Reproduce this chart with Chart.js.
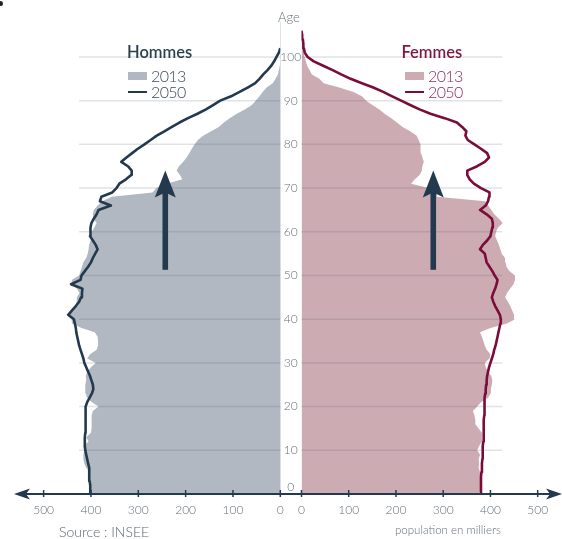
<!DOCTYPE html>
<html lang="fr">
<head>
<meta charset="utf-8">
<title>Pyramide des âges 2013 et 2050</title>
<script src="https://cdn.jsdelivr.net/npm/chart.js@4.4.1/dist/chart.umd.min.js"></script>
<style>
  html, body { margin: 0; padding: 0; background: #fff; }
  #page { position: relative; width: 562px; height: 539px; overflow: hidden; font-family: Lato, "Open Sans", sans-serif; }
  .box { position: absolute; top: 0; height: 539px; }
  #box-h { left: 0; width: 301px; }
  #box-f { left: 289px; width: 273px; }
  .t { position: absolute; white-space: nowrap; line-height: 1; }
  .sw { position: absolute; }
  .ttl { font-size: 16.5px; font-weight: 600; }
  .yr { font-size: 16px; font-weight: 300; letter-spacing: -0.6px; }
</style>
</head>
<body>
<div id="page">
  <div class="box" id="box-h"><canvas id="chart-h"></canvas></div>
  <div class="box" id="box-f"><canvas id="chart-f"></canvas></div>

  <div class="sw" style="left:-1px;top:1px;width:4px;height:5px;border-radius:50%;background:#222"></div>
  <div class="t" style="left:278px;top:11px;font-size:13px;font-weight:300;color:#66707b">Age</div>

  <!-- legends -->
  <div class="t ttl" style="left:127px;top:44px;color:#2c4052">Hommes</div>
  <div class="sw" style="left:128px;top:71.5px;width:18.5px;height:8.5px;background:#b2b8c1"></div>
  <div class="t yr" style="left:151px;top:67.5px;color:#3a4c5d">2013</div>
  <div class="sw" style="left:128px;top:90.5px;width:18.7px;height:2.6px;background:#233a4e"></div>
  <div class="t yr" style="left:151px;top:84px;color:#3a4c5d">2050</div>

  <div class="t ttl" style="left:401.5px;top:44px;color:#7d1743">Femmes</div>
  <div class="sw" style="left:405px;top:71.5px;width:18.5px;height:8.5px;background:#cdabb3"></div>
  <div class="t yr" style="left:428px;top:67.5px;color:#8b2d56">2013</div>
  <div class="sw" style="left:405px;top:90.5px;width:18.7px;height:2.6px;background:#7a0c3a"></div>
  <div class="t yr" style="left:428px;top:84px;color:#8b2d56">2050</div>

  <div class="t" style="left:59px;top:524.5px;font-size:14px;font-weight:300;color:#5c6670">Source : INSEE</div>
  <div class="t" style="left:395px;top:524px;font-size:11.5px;font-weight:300;color:#66707b">population en milliers</div>
</div>

<script>
(function () {
  "use strict";

  /* ---- data: population (milliers) by single year of age ---------------- */
  var AGES = [];
  for (var a = 0; a <= 106; a++) AGES.push(a);

  var HOMMES_2013 = [
    400, 401, 403, 405, 406, 402, 410, 414, 416, 416,   // 0-9
    414, 416, 405, 410, 400, 399, 399, 398, 399, 396,   // 10-19
    384, 398, 408, 411, 412, 412, 410, 411, 408, 400,   // 20-29
    390, 408, 402, 388, 385, 385, 386, 392, 420, 440,   // 30-39
    441, 452, 440, 432, 430, 430, 424, 430, 442, 440,   // 40-49
    425, 422, 419, 416, 410, 407, 405, 404, 401, 400,   // 50-59
    398, 393, 388, 395, 396, 394, 386, 376, 356, 270,   // 60-69
    262, 240, 207, 212, 219, 214, 205, 198, 192, 187,   // 70-79
    181, 174, 163, 146, 130, 119, 107, 92, 75, 60,      // 80-89
    52, 44, 37, 29, 16, 10, 5, 3, 1, 0,                 // 90-99
    null, null, null, null, null, null, null
  ];
  var HOMMES_2050 = [
    400, 401, 402, 403, 403, 404, 404, 406, 408, 410,
    412, 413, 413, 413, 412, 412, 412, 411, 411, 411,
    411, 408, 403, 398, 395, 396, 399, 402, 406, 410,
    414, 416, 419, 422, 425, 427, 429, 431, 432, 434,
    436, 448, 440, 432, 425, 421, 419, 418, 442, 422,
    420, 413, 406, 400, 396, 391, 386, 390, 396, 402,
    402, 400, 399, 394, 388, 384, 358, 381, 378, 355,
    346, 340, 326, 315, 314, 322, 336, 325, 313, 301,
    287, 274, 261, 245, 229, 213, 195, 175, 157, 142,
    127, 104, 86, 69, 53, 44, 36, 27, 19, 13,
    8, 3, 0, null, null, null, null
  ];
  var FEMMES_2013 = [
    375, 380, 382, 382, 380, 378, 375, 376, 375, 378,
    372, 376, 382, 382, 382, 375, 368, 368, 366, 363,
    372, 380, 395, 400, 401, 403, 404, 402, 395, 390,
    388, 398, 400, 392, 388, 385, 382, 378, 400, 435,
    452, 450, 446, 442, 437, 431, 435, 442, 449, 452,
    452, 440, 434, 432, 431, 424, 421, 418, 414, 410,
    412, 416, 426, 418, 408, 402, 395, 389, 287, 287,
    270, 232, 240, 250, 255, 256, 259, 256, 253, 252,
    252, 248, 244, 230, 214, 202, 190, 176, 165, 150,
    137, 128, 110, 80, 47, 38, 22, 17, 12, 9,
    7, 6, 5, 4, 3, 1, 0
  ];
  var FEMMES_2050 = [
    380, 380, 380, 380, 380, 381, 382, 382, 383, 383,
    384, 384, 385, 385, 386, 386, 386, 386, 387, 387,
    387, 388, 388, 389, 390, 391, 392, 393, 395, 397,
    400, 403, 406, 408, 411, 413, 415, 417, 419, 421,
    422, 420, 415, 410, 406, 403, 406, 410, 413, 415,
    409, 404, 398, 392, 390, 388, 378, 384, 393, 400,
    402, 404, 405, 403, 392, 378, 390, 395, 397, 398,
    380, 365, 356, 351, 351, 372, 388, 397, 393, 380,
    366, 352, 347, 349, 340, 329, 303, 273, 250, 230,
    211, 192, 173, 152, 128, 104, 84, 66, 46, 26,
    13, 7, 5, 4, 3, 1.5, 0
  ];

  var AGE_TICKS = [0, 10, 20, 30, 40, 50, 60, 70, 80, 90, 100];
  var POP_TICKS = [0, 100, 200, 300, 400, 500];
  var AGE_MAX = 108;
  var GRID_END = 425;              // reference lines stop short of the axis end
  var ARROW_AGES = [51.3, 74];     // ageing arrows: from / to
  var ARROW_AT = { h: 243, f: 279 };

  var NAVY = "#233a4e", MAROON = "#7a0c3a";
  var GRAY = "#b2b8c1", PINK = "#cdabb3";
  var TICK = "#66707b";

  Chart.defaults.font.family = "Lato, 'Open Sans', sans-serif";

  function points(vals) {
    var pts = [];
    AGES.forEach(function (age, i) { if (vals[i] != null) pts.push({ x: vals[i], y: age }); });
    return pts;
  }
  function fixedTicks(list) {
    return function (s) { s.ticks = list.map(function (v) { return { value: v }; }); };
  }

  /* grid over the 2013 area, axis with arrows, and the two big arrows */
  var pyramid = {
    id: "pyramid",
    afterDatasetDraw: function (chart, args) {
      if (args.index !== 1) return;
      var ctx = chart.ctx, xs = chart.scales.x, ys = chart.scales.y;
      ctx.save();
      ctx.strokeStyle = "rgba(70,84,102,0.17)";
      ctx.lineWidth = 1.5;
      AGE_TICKS.forEach(function (age) {
        if (age === 0) return;
        var y = ys.getPixelForValue(age);
        ctx.beginPath();
        ctx.moveTo(xs.getPixelForValue(0), y);
        ctx.lineTo(xs.getPixelForValue(GRID_END), y);
        ctx.stroke();
      });
      ctx.restore();
    },
    afterDatasetsDraw: function (chart, args, opts) {
      var ctx = chart.ctx, xs = chart.scales.x, ys = chart.scales.y, ca = chart.chartArea;
      var left = opts.side === "h";
      var y0 = ca.bottom;
      ctx.save();
      ctx.fillStyle = NAVY;
      ctx.strokeStyle = NAVY;
      ctx.lineWidth = 2;
      ctx.beginPath();
      if (left) { ctx.moveTo(ca.left + 8, y0); ctx.lineTo(chart.width, y0); }
      else { ctx.moveTo(0, y0); ctx.lineTo(ca.right - 8, y0); }
      ctx.stroke();

      var tip = left ? ca.left : ca.right, dir = left ? 1 : -1;
      ctx.beginPath();
      ctx.moveTo(tip, y0);
      ctx.lineTo(tip + dir * 16, y0 - 5.5);
      ctx.lineTo(tip + dir * 12, y0);
      ctx.lineTo(tip + dir * 16, y0 + 5.5);
      ctx.closePath();
      ctx.fill();

      ctx.lineWidth = 1.5;
      xs.ticks.forEach(function (t) {
        var x = xs.getPixelForValue(t.value);
        ctx.beginPath(); ctx.moveTo(x, y0 - 4); ctx.lineTo(x, y0 + 3); ctx.stroke();
      });

      var ax = xs.getPixelForValue(opts.arrowAt);
      var yb = ys.getPixelForValue(ARROW_AGES[0]), yt = ys.getPixelForValue(ARROW_AGES[1]);
      ctx.fillRect(ax - 2.8, yt + 20, 5.6, yb - yt - 20);
      ctx.beginPath();
      ctx.moveTo(ax, yt);
      ctx.lineTo(ax + 10.5, yt + 27);
      ctx.lineTo(ax, yt + 22);
      ctx.lineTo(ax - 10.5, yt + 27);
      ctx.closePath();
      ctx.fill();
      ctx.restore();
    }
  };

  function build(id, side) {
    var left = side === "h";
    return new Chart(document.getElementById(id), {
      type: "line",
      data: {
        datasets: [
          { label: "2050", data: points(left ? HOMMES_2050 : FEMMES_2050), borderColor: left ? NAVY : MAROON,
            borderWidth: 2.6, borderJoinStyle: "round", fill: false, pointRadius: 0, tension: 0 },
          { label: "2013", data: points(left ? HOMMES_2013 : FEMMES_2013), backgroundColor: left ? GRAY : PINK,
            borderWidth: 0, fill: "origin", pointRadius: 0, tension: 0 }
        ]
      },
      options: {
        indexAxis: "y",
        animation: false,
        responsive: true,
        maintainAspectRatio: false,
        layout: { padding: { top: 22, bottom: 0, left: left ? 14 : 12, right: 0 } },
        plugins: {
          legend: { display: false },
          tooltip: { enabled: false },
          pyramid: { side: side, arrowAt: ARROW_AT[side] }
        },
        scales: {
          x: {
            type: "linear", reverse: left, min: 0, max: left ? 562.6 : 551.5, bounds: "data",
            afterBuildTicks: fixedTicks(POP_TICKS),
            afterFit: function (s) { s.height = 45; },
            grid: { display: false, drawTicks: false },
            border: { display: false },
            ticks: { padding: 9, color: TICK, maxRotation: 0, autoSkip: false, font: { size: 12, weight: "300" } }
          },
          y: {
            type: "linear", display: left, position: "right", min: 0, max: AGE_MAX, bounds: "data",
            afterBuildTicks: fixedTicks(AGE_TICKS),
            afterFit: function (s) { s.width = left ? 20.7 : 0; },
            grid: { display: false, drawTicks: false },
            border: { display: true, color: "#dde1e6", width: 1 },
            ticks: {
              padding: 0, crossAlign: "center", color: TICK, autoSkip: false, font: { size: 12, weight: "300" },
              callback: function (v) { return v === 0 ? ["0", ""] : String(v); }
            }
          }
        }
      },
      plugins: [pyramid]
    });
  }

  build("chart-h", "h");
  build("chart-f", "f");
})();
</script>
</body>
</html>
